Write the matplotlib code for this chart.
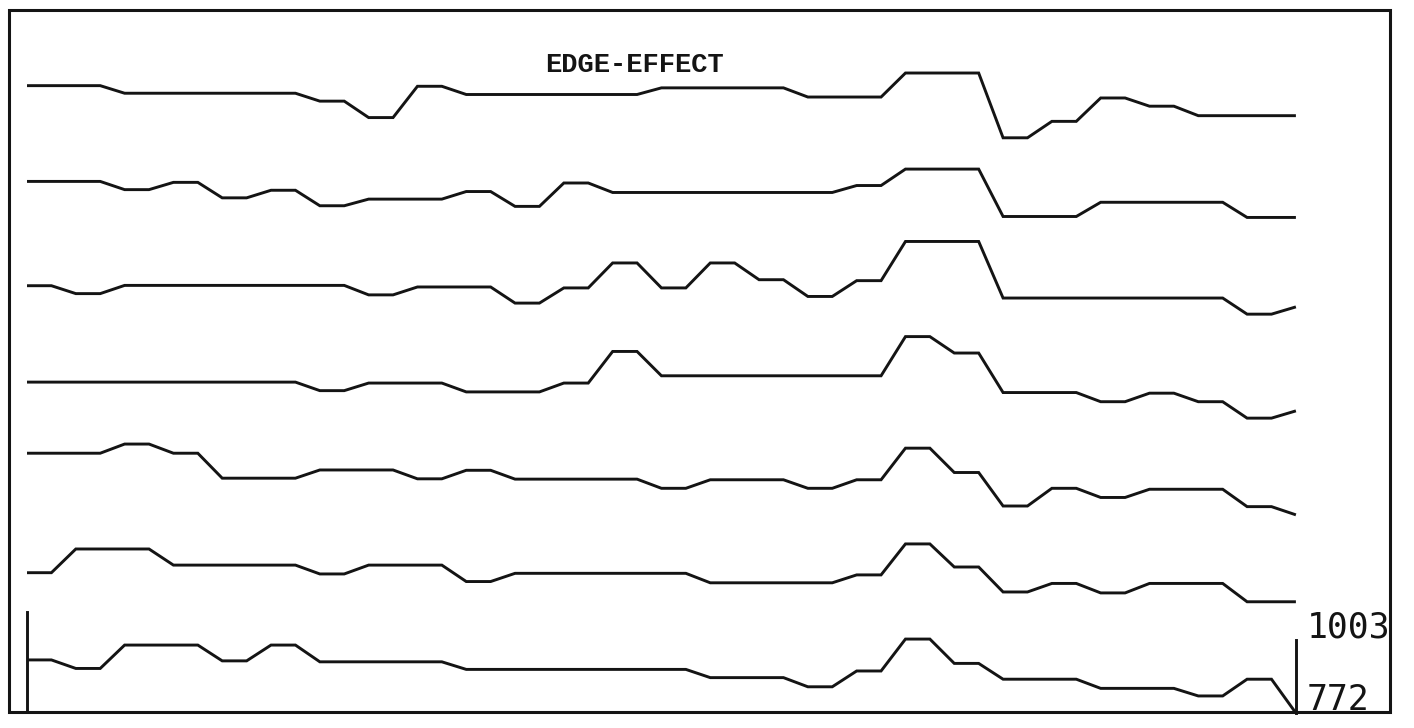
"""
Stacked edge-effect traces, seven channels, with the 772-1003 scale bar.
"""
import numpy as np
from matplotlib import pyplot as plt
from matplotlib.patches import Rectangle

# samples along each trace
samples = np.arange(53)

# channel readings (counts), top trace first
trace1 = [939, 939, 939, 939, 915, 915, 915, 915, 915, 915, 915, 915,
          890, 890, 838, 838, 937, 937, 911, 911, 911, 911, 911, 911,
          911, 911, 932, 932, 932, 932, 932, 932, 903, 903, 903, 903,
          979, 979, 979, 979, 774, 774, 826, 826, 900, 900, 874, 874,
          844, 844, 844, 844, 844]
trace2 = [939, 939, 939, 939, 913, 913, 936, 936, 887, 887, 911, 911,
          862, 862, 883, 883, 883, 883, 907, 907, 860, 860, 934, 934,
          904, 904, 904, 904, 904, 904, 904, 904, 904, 904, 926, 926,
          978, 978, 978, 978, 828, 828, 828, 828, 873, 873, 873, 873,
          873, 873, 825, 825, 825]
trace3 = [912, 912, 887, 887, 913, 913, 913, 913, 913, 913, 913, 913,
          913, 913, 883, 883, 908, 908, 908, 908, 857, 857, 905, 905,
          984, 984, 905, 905, 984, 984, 931, 931, 878, 878, 928, 928,
          1052, 1052, 1052, 1052, 873, 873, 873, 873, 873, 873, 873, 873,
          873, 873, 822, 822, 845]
trace4 = [910, 910, 910, 910, 910, 910, 910, 910, 910, 910, 910, 910,
          883, 883, 907, 907, 907, 907, 879, 879, 879, 879, 907, 907,
          1007, 1007, 930, 930, 930, 930, 930, 930, 930, 930, 930, 930,
          1054, 1054, 1002, 1002, 877, 877, 877, 877, 848, 848, 875, 875,
          848, 848, 796, 796, 819]
trace5 = [988, 988, 988, 988, 1017, 1017, 988, 988, 909, 909, 909, 909,
          935, 935, 935, 935, 907, 907, 934, 934, 906, 906, 906, 906,
          906, 906, 877, 877, 904, 904, 904, 904, 877, 877, 904, 904,
          1004, 1004, 927, 927, 821, 821, 877, 877, 848, 848, 874, 874,
          874, 874, 819, 819, 793]
trace6 = [913, 913, 988, 988, 988, 988, 937, 937, 937, 937, 937, 937,
          909, 909, 937, 937, 937, 937, 885, 885, 911, 911, 911, 911,
          911, 911, 911, 911, 881, 881, 881, 881, 881, 881, 906, 906,
          1004, 1004, 931, 931, 852, 852, 879, 879, 849, 849, 879, 879,
          879, 879, 821, 821, 821]
trace7 = [940, 940, 913, 913, 987, 987, 987, 987, 937, 937, 987, 987,
          934, 934, 934, 934, 934, 934, 910, 910, 910, 910, 910, 910,
          910, 910, 910, 910, 884, 884, 884, 884, 855, 855, 905, 905,
          1006, 1006, 929, 929, 879, 879, 879, 879, 850, 850, 850, 850,
          826, 826, 879, 879, 772]

traces = [trace1, trace2, trace3, trace4, trace5, trace6, trace7]
scale_top, scale_bottom = 1003, 772
spacing = 303   # vertical gap between stacked channels, in counts

INK = '#141414'


def main():
    fig = plt.figure(figsize=(14.14, 7.28), dpi=100)
    ax = fig.add_axes([0, 0, 1, 1])
    ax.set_axis_off()

    n = len(traces)
    for k, tr in enumerate(traces):
        shift = (n - 1 - k) * spacing
        ax.plot(samples, np.array(tr) + shift, color=INK, lw=2.1,
                solid_joinstyle='miter', solid_capstyle='butt')

    # calibration marks on the bottom channel
    ax.plot([0, 0], [1092, 781], color=INK, lw=2.1)
    ax.plot([samples[-1], samples[-1]], [scale_top, scale_bottom],
            color=INK, lw=2.1)
    ax.text(samples[-1] + 0.45, scale_top + 40, str(scale_top),
            family='DejaVu Sans Mono', fontsize=25, color=INK,
            ha='left', va='center')
    ax.text(samples[-1] + 0.45, scale_bottom + 40, str(scale_bottom),
            family='DejaVu Sans Mono', fontsize=25, color=INK,
            ha='left', va='center')

    ax.text(24.9, 2822, 'EDGE-EFFECT', family='Liberation Mono',
            fontsize=19.5, weight='bold', color=INK,
            ha='center', va='center')

    ax.set_xlim(-1.107, 56.84)
    ax.set_ylim(724.6, 3028)

    # plot frame
    fig.patches.append(Rectangle((9 / 1414, 16 / 728), 1381 / 1414,
                                 702 / 728, transform=fig.transFigure,
                                 fill=False, ec=INK, lw=2.2))

    fig.savefig('out.png', dpi=100, facecolor='white')


if __name__ == "__main__":
    main()
